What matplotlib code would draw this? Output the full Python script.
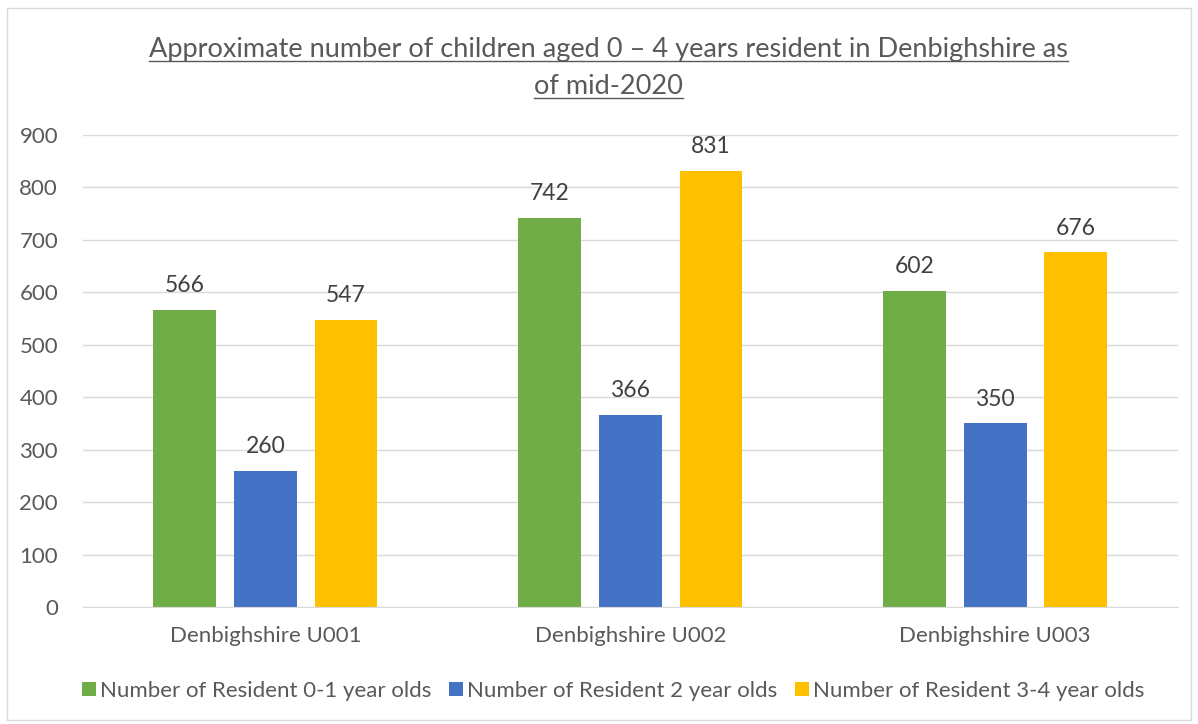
import matplotlib.pyplot as plt
import numpy as np
from matplotlib.patches import Rectangle
from matplotlib.lines import Line2D

categories = ["Denbighshire U001", "Denbighshire U002", "Denbighshire U003"]
series_names = [
    "Number of Resident 0-1 year olds",
    "Number of Resident 2 year olds",
    "Number of Resident 3-4 year olds",
]
age_0_1 = [566, 742, 602]
age_2 = [260, 366, 350]
age_3_4 = [547, 831, 676]
colors = ["#70ad47", "#4472c4", "#ffc000"]
title_lines = [
    "Approximate number of children aged 0 \u2013 4 years resident in Denbighshire as",
    "of mid-2020",
]

plt.rcParams["font.family"] = ["Lato", "DejaVu Sans"]
text_color = "#595959"
title_size = 19.5

fig = plt.figure(figsize=(11.98, 7.24), dpi=100)
fig.patches.append(Rectangle((0.006, 0.006), 0.988, 0.983, transform=fig.transFigure,
                             fill=False, edgecolor="#d9d9d9", linewidth=1.0))
ax = fig.add_axes([0.0693, 0.1616, 0.9137, 0.652])

x = np.arange(len(categories))
width = 0.172
step = 0.221
for i, (vals, name, col) in enumerate(zip([age_0_1, age_2, age_3_4], series_names, colors)):
    pos = x + (i - 1) * step
    ax.bar(pos, vals, width, color=col, label=name, zorder=2)
    for p, v in zip(pos, vals):
        ax.annotate(str(v), (p, v), xytext=(0, 10), textcoords="offset points",
                    ha="center", va="bottom", fontsize=16.5, color="#404040")

ax.set_xlim(-0.5, 2.5)
ax.set_ylim(0, 900)
ax.set_yticks(range(0, 901, 100))
ax.set_xticks(x)
ax.set_xticklabels(categories)
ax.grid(axis="y", color="#d9d9d9", linewidth=1.0, zorder=0)
for s in ["top", "right", "left"]:
    ax.spines[s].set_visible(False)
ax.spines["bottom"].set_color("#d9d9d9")
ax.tick_params(axis="both", length=0, labelsize=16, colors=text_color)
ax.tick_params(axis="y", pad=18)
ax.tick_params(axis="x", pad=14)

title_texts = []
for line, ypos in zip(title_lines, [0.931, 0.881]):
    title_texts.append(fig.text(0.508, ypos, line, ha="center", va="center",
                                fontsize=title_size, color=text_color))

leg = fig.legend(loc="center", bbox_to_anchor=(0.512, 0.046), ncol=3, frameon=False,
                 fontsize=16, handlelength=0.6, handleheight=0.6, handletextpad=0.2,
                 columnspacing=0.8)
for txt in leg.get_texts():
    txt.set_color(text_color)

# underline the title lines
fig.canvas.draw()
renderer = fig.canvas.get_renderer()
W, H = fig.bbox.width, fig.bbox.height
for t in title_texts:
    bb = t.get_window_extent(renderer)
    y = bb.y0 + 1
    fig.add_artist(Line2D([bb.x0 / W, bb.x1 / W], [y / H, y / H],
                          transform=fig.transFigure, color=text_color, linewidth=1.0))

fig.savefig("out.png", dpi=100)
